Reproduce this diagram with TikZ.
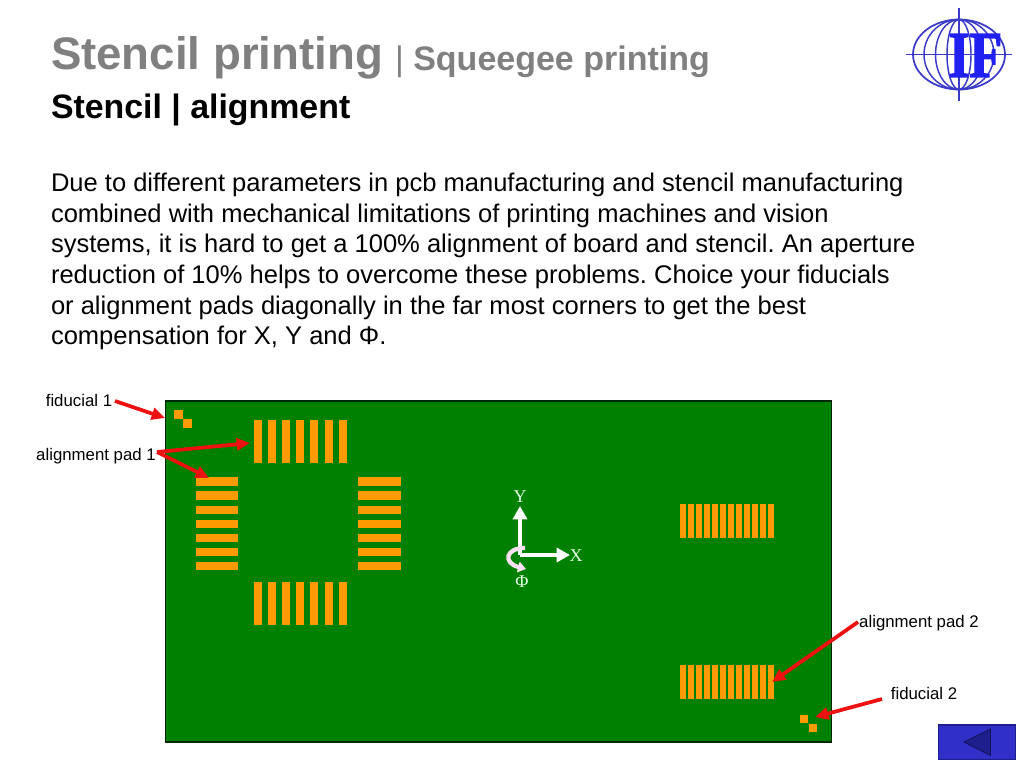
\documentclass[tikz,border=0pt]{standalone}
\usepackage{fontspec}
\setmainfont{Liberation Sans}
\newfontfamily\serifface{Liberation Serif}
\newfontfamily\logoface[FakeBold=2.5]{Liberation Serif Bold}
\usetikzlibrary{arrows.meta}
\definecolor{boardgreen}{HTML}{008000}
\definecolor{padorange}{HTML}{FF9A00}
\definecolor{titlegrey}{HTML}{808080}
\definecolor{arrowred}{HTML}{EE1111}
\definecolor{navblue}{HTML}{3030C8}
\definecolor{navdark}{HTML}{1E1E8C}
\definecolor{logoblue}{HTML}{3A3AC8}
\definecolor{logofill}{HTML}{2020F0}
\tikzset{
  x=0.75pt,y=-0.75pt,
  pad/.style={fill=padorange,draw=none},
  txt/.style={inner sep=0pt,outer sep=0pt,anchor=base west,text=black},
  lbl/.style={inner sep=1pt,font=\fontsize{12.6pt}{14pt}\selectfont,text=black},
  axlbl/.style={inner sep=0pt,font=\serifface\fontsize{13.5pt}{15pt}\selectfont,text=white!90!green},
  redarrow/.style={draw=arrowred,line width=2.8pt,-{Triangle[length=10pt,width=9pt]}},
  whitearrow/.style={draw=white,line width=3pt,-{Triangle[length=10pt,width=10.5pt]}},
  logoline/.style={draw=logoblue,line width=1.1pt}
}
\begin{document}
\frenchspacing
\begin{tikzpicture}
\useasboundingbox (0,0) rectangle (1024,768);
% titles
\node[txt,text=titlegrey,font=\bfseries\fontsize{34.2pt}{38pt}\selectfont] (title) at (51,69) {Stencil printing};
\node[txt,text=titlegrey,font=\bfseries\fontsize{25.5pt}{28pt}\selectfont] (titleb) at (395,70) {\textmd{|} Squeegee printing};
\node[txt,font=\bfseries\fontsize{25.4pt}{28pt}\selectfont] (sub) at (51,118) {Stencil | alignment};
% body
\node[txt,anchor=north west,align=left,font=\fontsize{19.15pt}{23pt}\selectfont] (body) at (51,173) {Due to different parameters in pcb manufacturing and stencil manufacturing\\
combined with mechanical limitations of printing machines and vision\\
systems, it is hard to get a 100\% alignment of board and stencil. An aperture\\
reduction of 10\% helps to overcome these problems. Choice your fiducials\\
or alignment pads diagonally in the far most corners to get the best\\
compensation for X, Y and Φ.};
% board
\draw[fill=boardgreen,draw=black!70!boardgreen,line width=0.8pt] (165.5,401) rectangle (831.5,742);
% fiducials
\fill[pad] (174,410) rectangle (182.5,418.5);
\fill[pad] (183,419) rectangle (191.5,427.5);
\fill[pad] (800,715) rectangle (808.3,723.3);
\fill[pad] (808.5,724) rectangle (817,732.3);
% QFP pads
\foreach \i in {0,...,6}{
  \fill[pad] ({254+14.1*\i},420) rectangle ({262+14.1*\i},463);
  \fill[pad] ({254+14.1*\i},582) rectangle ({262+14.1*\i},625);
  \fill[pad] (195.5,{477.3+14.1*\i}) rectangle (238,{485.7+14.1*\i});
  \fill[pad] (358,{477.3+14.1*\i}) rectangle (400.5,{485.7+14.1*\i});
}
% fine-pitch pads
\foreach \i in {0,...,11}{
  \fill[pad] ({680+8.04*\i},503.5) rectangle ({686+8.04*\i},537.5);
  \fill[pad] ({680+8.04*\i},665) rectangle ({686+8.04*\i},699);
}
% axes
\coordinate (origin) at (520,555);
\coordinate (xtip) at (570,555);
\coordinate (ytip) at (520,506);
\draw[whitearrow] (origin) -- (xtip);
\draw[whitearrow] (origin) -- (ytip);
\draw[draw=white!88!magenta,line width=3.2pt,-{Triangle[length=6pt,width=8pt]}] (525,548) .. controls (505,548) and (503,563) .. (526,569);
\node[axlbl] (ylab) at (520,497) {Y};
\node[axlbl] (xlab) at (576,556) {X};
\node[axlbl] (philab) at (522,582) {Φ};
% labels and connectors
\node[lbl] (fid1) at (79,400.5) {fiducial 1};
\node[lbl] (ap1) at (96,456) {alignment pad 1};
\node[lbl] (ap2) at (919,623) {alignment pad 2};
\node[lbl] (fid2) at (924,693.5) {fiducial 2};
\coordinate (fid1end) at (165,418);
\coordinate (ap1s) at (157,452);
\coordinate (ap1a) at (250,443);
\coordinate (ap1b) at (209,478);
\coordinate (ap2s) at (858,622);
\coordinate (ap2e) at (772,682);
\coordinate (fid2s) at (882,699);
\coordinate (fid2e) at (815,717);
\coordinate (fid1s) at (115,401);
\draw[redarrow] (fid1s) -- (fid1end);
\draw[redarrow] (ap1s) -- (ap1a);
\draw[redarrow] (ap1s) -- (ap1b);
\draw[redarrow] (ap2s) -- (ap2e);
\draw[redarrow] (fid2s) -- (fid2e);
% nav button
\draw[fill=navblue,draw=navdark,line width=0.8pt] (938.5,725) rectangle (1015.5,759.5);
\draw[fill=navdark,draw=black!40!navdark,line width=0.6pt] (964,742) -- (990.5,729) -- (990.5,755.5) -- cycle;
% logo
\begin{scope}[shift={(959,54.5)}]
\draw[logoline] (0,-46.5) -- (0,46.5);
\draw[logoline] (-53,0) -- (53,0);
\draw[logoline,line width=1.3pt] (0,0) ellipse [x radius=46,y radius=35];
\draw[logoline] (0,0) ellipse [x radius=35,y radius=35];
\draw[logoline] (0,0) ellipse [x radius=23.5,y radius=35];
\draw[logoline] (0,0) ellipse [x radius=12,y radius=35];
\node[inner sep=0pt,text=logofill,xscale=0.82,font=\logoface\fontsize{49pt}{50pt}\selectfont] (logotext) at (16.5,1) {IF};
\end{scope}
\end{tikzpicture}
\end{document}
